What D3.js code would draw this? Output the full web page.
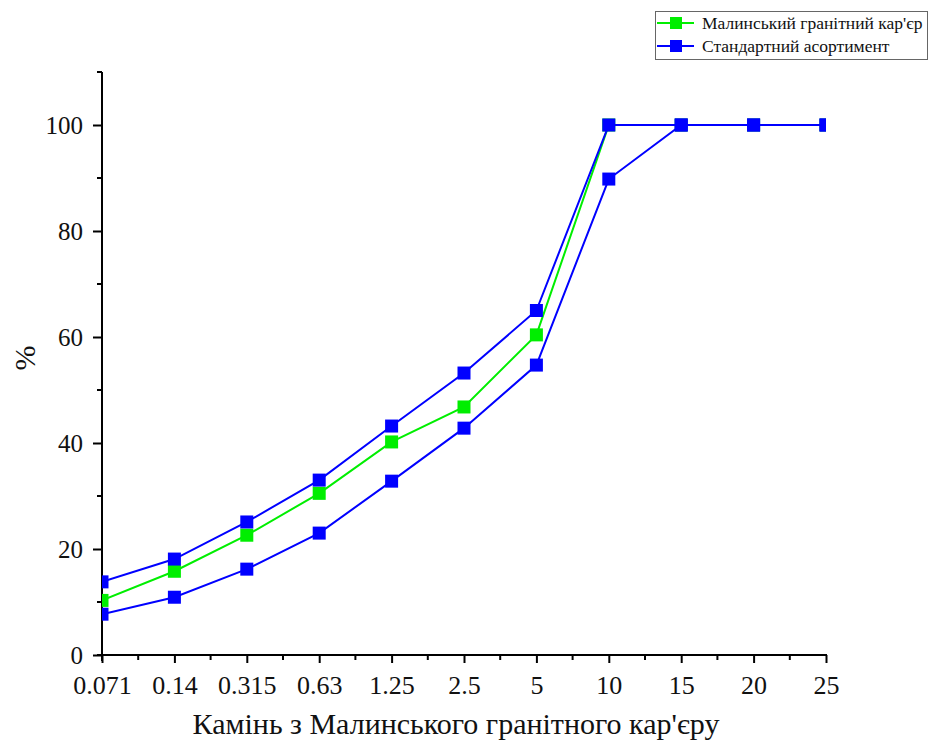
<!DOCTYPE html>
<html>
<head>
<meta charset="utf-8">
<script src="https://cdn.jsdelivr.net/npm/d3@7/dist/d3.min.js"></script>
<style>
  body { margin: 0; background: #fff; }
  svg { display: block; font-family: "Liberation Serif", "Times New Roman", serif; }
</style>
</head>
<body>
<svg id="chart" width="932" height="747"></svg>
<script>
const categories = ["0.071", "0.14", "0.315", "0.63", "1.25", "2.5", "5", "10", "15", "20", "25"];
const malynValues = [10.3, 15.8, 22.6, 30.5, 40.2, 46.8, 60.4, 100, 100, 100, 100];
const standardUpper = [13.8, 18.1, 25.1, 33.0, 43.2, 53.2, 65.0, 100, 100, 100, 100];
const standardLower = [7.7, 10.9, 16.2, 23.0, 32.8, 42.8, 54.7, 89.8, 100, 100, 100];
const yTicks = [0, 20, 40, 60, 80, 100];
const yMinorTicks = [10, 30, 50, 70, 90, 110];
const legendLabels = ["Малинський гранітний кар'єр", "Стандартний асортимент"];
const xTitle = "Камінь з Малинського гранітного кар'єру";
const yTitle = "%";

(function () {
const svg = d3.select("#chart");
const pL = 102, pR = 826, pT = 72, pB = 655;

const x = d3.scalePoint().domain(categories).range([pL, pR]);
const y = d3.scaleLinear().domain([0, 110]).range([pB, pT]);

svg.append("defs").append("clipPath").attr("id", "plotclip")
  .append("rect").attr("x", pL).attr("y", pT - 10).attr("width", pR - pL).attr("height", pB - pT + 10);

// X axis
const xAxis = d3.axisBottom(x).tickSizeOuter(0).tickSize(8).tickPadding(13);
const gx = svg.append("g").attr("transform", `translate(0,${pB})`).call(xAxis);
gx.select(".domain").remove();
gx.append("line").attr("x1", pL - 5).attr("x2", pR + 1).attr("y1", 0).attr("y2", 0)
  .attr("stroke", "#000").attr("stroke-width", 2);
gx.selectAll(".tick line").attr("stroke", "#000").attr("stroke-width", 2);
gx.selectAll(".tick text").attr("fill", "#111").style("font-size", "26px").style("font-family", "Liberation Serif");
const mids = categories.slice(0, -1).map((c, i) => (x(c) + x(categories[i + 1])) / 2);
gx.selectAll(".minor").data(mids).join("line").attr("class", "minor")
  .attr("x1", d => d).attr("x2", d => d).attr("y1", 0).attr("y2", 5)
  .attr("stroke", "#000").attr("stroke-width", 2);

// Y axis
const yAxis = d3.axisLeft(y).tickValues(yTicks).tickSizeOuter(0).tickSize(9).tickPadding(10);
const gy = svg.append("g").attr("transform", `translate(${pL},0)`).call(yAxis);
gy.select(".domain").remove();
gy.append("line").attr("x1", 0).attr("x2", 0).attr("y1", pT).attr("y2", pB + 6)
  .attr("stroke", "#000").attr("stroke-width", 2);
gy.selectAll(".tick line").attr("stroke", "#000").attr("stroke-width", 2);
gy.selectAll(".tick text").attr("fill", "#111").style("font-size", "25px").style("font-family", "Liberation Serif");
gy.selectAll(".minor").data(yMinorTicks).join("line").attr("class", "minor")
  .attr("x1", -5).attr("x2", 0).attr("y1", d => y(d)).attr("y2", d => y(d))
  .attr("stroke", "#000").attr("stroke-width", 2);

// Titles
svg.append("text").attr("x", 456).attr("y", 734).attr("text-anchor", "middle")
  .attr("fill", "#111").style("font-size", "30px").text(xTitle);
svg.append("text").attr("transform", "translate(35,358) rotate(-90)").attr("text-anchor", "middle")
  .attr("fill", "#111").style("font-size", "30px").text(yTitle);

// Series
const series = [
  { values: malynValues, color: "#00ee00" },
  { values: standardLower, color: "#0000ff" },
  { values: standardUpper, color: "#0000ff" }
];
const line = d3.line().x((d, i) => x(categories[i])).y(d => y(d));
const plot = svg.append("g").attr("clip-path", "url(#plotclip)");
const ms = 13;
series.forEach(s => {
  plot.append("path").datum(s.values).attr("d", line)
    .attr("fill", "none").attr("stroke", s.color).attr("stroke-width", 2);
  plot.selectAll(null).data(s.values).join("rect")
    .attr("x", (d, i) => x(categories[i]) - ms / 2).attr("y", d => y(d) - ms / 2)
    .attr("width", ms).attr("height", ms).attr("fill", s.color);
});

// Legend
const lg = svg.append("g");
lg.append("rect").attr("x", 655.5).attr("y", 11.5).attr("width", 272).attr("height", 48)
  .attr("fill", "#fff").attr("stroke", "#666").attr("stroke-width", 1);
const legendColors = ["#00ee00", "#0000ff"];
legendLabels.forEach((lab, i) => {
  const cy = 23 + i * 23;
  lg.append("line").attr("x1", 657).attr("x2", 694).attr("y1", cy).attr("y2", cy)
    .attr("stroke", legendColors[i]).attr("stroke-width", 2);
  lg.append("rect").attr("x", 670).attr("y", cy - 6).attr("width", 12).attr("height", 12).attr("fill", legendColors[i]);
  lg.append("text").attr("x", 702).attr("y", cy + 6).attr("fill", "#111")
    .style("font-size", "17.5px").text(lab);
});
})();
</script>
</body>
</html>
